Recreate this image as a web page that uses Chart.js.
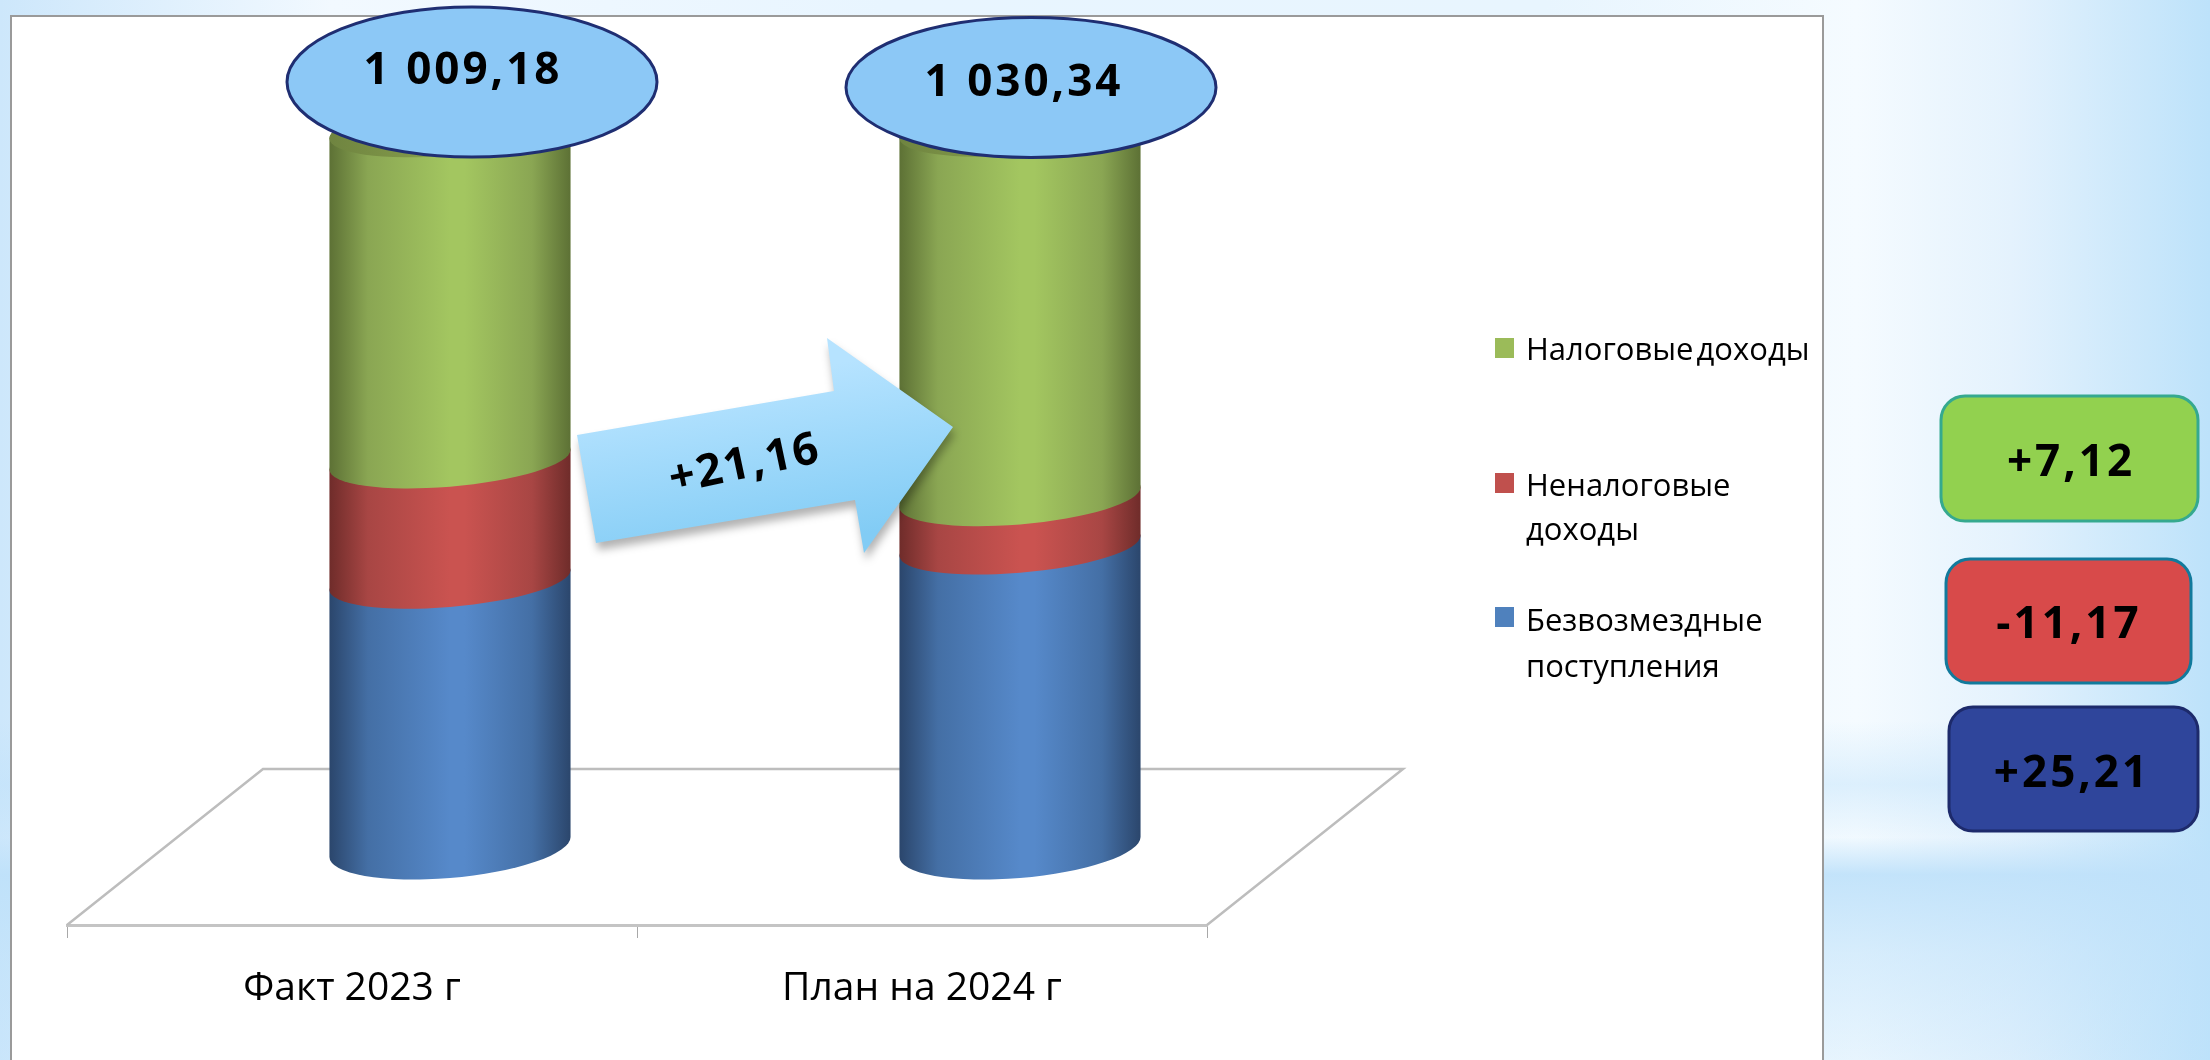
<!DOCTYPE html>
<html lang="ru">
<head>
<meta charset="utf-8">
<title>Доходы бюджета</title>
<script src="https://cdn.jsdelivr.net/npm/chart.js@4/dist/chart.umd.min.js"></script>
<style>
html, body { margin: 0; padding: 0; width: 2210px; height: 1060px; overflow: hidden; }
body {
    position: relative;
    background:
        linear-gradient(180deg,
            rgba(190,225,250,0) 68%, rgba(190,225,250,0.45) 74%, rgba(190,225,250,0.08) 79%,
            rgba(190,225,250,0.9) 82.5%, rgba(190,225,250,0.55) 90%, rgba(190,225,250,0.25) 100%),
        linear-gradient(90deg, #cde7fb 0%, #f2f9ff 15%, #e8f5ff 40%, #e8f5fe 70%, #f5fbff 84%, #e4f2fd 91%, #bde2fa 100%);
}
#panel {
    position: absolute; left: 10px; top: 15px; width: 1814px; height: 1045px;
    background: #fff; border: 2px solid #9a9a9a; border-bottom: 0; box-sizing: border-box;
}
#wrap { position: absolute; left: 0; top: 0; width: 2210px; height: 1060px; }
</style>
</head>
<body>
<div id="panel"></div>
<div id="wrap"><canvas id="revenueChart"></canvas></div>
<script>
// Chart data
const categories = ["Факт 2023 г", "План на 2024 г"];
const grants = [375, 423];
const nonTax = [169, 68];
const taxes = [465.18, 519];
const seriesNames = ["Безвозмездные поступления", "Неналоговые доходы", "Налоговые доходы"];
const totalLabels = ["1 009,18", "1 030,34"];
const changeLabels = ["+7,12", "-11,17", "+25,21"];
const arrowLabel = "+21,16";

const colors = { green: "#9BBB59", red: "#C0504D", blue: "#4F81BD" };
// edge, shoulder and middle shade of each band
const bandShades = {
    [colors.green]: ["#5d7135", "#8aa653", "#a3c660"],
    [colors.red]: ["#6f2c2a", "#a84644", "#ca5350"],
    [colors.blue]: ["#2b466c", "#446fa5", "#5689ca"],
};
const FONT = '"Open Sans", "Noto Sans", sans-serif';

// 3D look: cylinders stand in the middle of the floor
const depthX = 98;
const depthY = -78;
const skew = 10;

function cylinderPath(ctx, r, topY, botY, topRy, botRy) {
    ctx.beginPath();
    ctx.moveTo(-r, topY);
    ctx.lineTo(-r, botY);
    ctx.ellipse(0, botY, r, botRy, 0, Math.PI, 0, true);
    ctx.lineTo(r, topY);
    ctx.ellipse(0, topY, r, topRy, 0, 0, Math.PI, true);
    ctx.closePath();
}

function drawText(ctx, text, x, y, font, spacing, angle) {
    ctx.save();
    ctx.translate(x, y);
    if (angle) ctx.rotate(angle);
    ctx.font = font;
    ctx.letterSpacing = spacing || "0px";
    ctx.fillStyle = "#000";
    ctx.textAlign = "center";
    ctx.textBaseline = "middle";
    ctx.fillText(text, 0, 0);
    ctx.restore();
}

function drawBands(chart) {
    const { ctx } = chart;
    // bottom series first, so every upper band overlaps the one below
    chart.data.datasets.forEach((dataset, index) => {
        const [edge, shoulder, mid] = bandShades[dataset.backgroundColor];
        const isBottom = index === 0;
        const isTop = index === chart.data.datasets.length - 1;
        chart.getDatasetMeta(index).data.forEach((bar) => {
            const r = bar.width / 2;
            const grad = ctx.createLinearGradient(-r, 0, r, 0);
            grad.addColorStop(0, edge);
            grad.addColorStop(0.16, shoulder);
            grad.addColorStop(0.5, mid);
            grad.addColorStop(0.56, mid);
            grad.addColorStop(0.84, shoulder);
            grad.addColorStop(1, edge);
            ctx.save();
            ctx.translate(bar.x + depthX, depthY);
            ctx.transform(1, -skew / r, 0, 1, 0, 0);
            cylinderPath(ctx, r, bar.y, bar.base, 27, isBottom ? 31 : 27);
            ctx.fillStyle = grad;
            ctx.fill();
            if (isTop) {
                const cap = ctx.createLinearGradient(-r, 0, r * 0.3, 0);
                cap.addColorStop(0, "#6f8440");
                cap.addColorStop(0.5, "#7f9648");
                cap.addColorStop(1, "#a0c35d");
                ctx.beginPath();
                ctx.ellipse(0, bar.y, r, 27, 0, 0, Math.PI * 2);
                ctx.fillStyle = cap;
                ctx.fill();
            }
            ctx.restore();
        });
    });
}

const cylinders = {
    id: "cylinders",
    beforeDatasetsDraw(chart) {
        // floor of the 3D chart
        const { ctx, chartArea: a } = chart;
        const backY = a.bottom + depthY * 2;
        const backX = depthX * 2;
        ctx.save();
        ctx.strokeStyle = "#bdbdbd";
        ctx.lineWidth = 2.5;
        ctx.beginPath();
        ctx.moveTo(a.left, a.bottom);
        ctx.lineTo(a.left + backX, backY);
        ctx.lineTo(a.right + backX, backY);
        ctx.lineTo(a.right, a.bottom);
        ctx.stroke();
        ctx.restore();
    },
    beforeDatasetDraw() {
        // the bars are painted as cylinders in afterDatasetsDraw
        return false;
    },
    afterDatasetsDraw(chart) {
        const { ctx } = chart;
        drawBands(chart);

        // arrow between the columns
        const arrow = [[577, 435], [834, 391], [827, 338], [953, 427], [864, 553], [855, 500], [596, 543]];
        ctx.save();
        ctx.beginPath();
        arrow.forEach(([x, y], i) => (i ? ctx.lineTo(x, y) : ctx.moveTo(x, y)));
        ctx.closePath();
        const arrowFill = ctx.createLinearGradient(740, 380, 770, 550);
        arrowFill.addColorStop(0, "#b6e3ff");
        arrowFill.addColorStop(1, "#82ccf5");
        ctx.shadowColor = "rgba(0,0,0,0.3)";
        ctx.shadowBlur = 8;
        ctx.shadowOffsetX = 2;
        ctx.shadowOffsetY = 7;
        ctx.fillStyle = arrowFill;
        ctx.fill();
        ctx.restore();
        drawText(ctx, arrowLabel, 745, 465, "bold 45px " + FONT, "2px", -0.21);

        // totals in ovals
        const ovals = [
            { x: 472, y: 82, rx: 185, ry: 75, tx: 463, ty: 71 },
            { x: 1031, y: 87.5, rx: 185, ry: 70, tx: 1024, ty: 83 },
        ];
        ovals.forEach((o, i) => {
            ctx.save();
            ctx.beginPath();
            ctx.ellipse(o.x, o.y, o.rx, o.ry, 0, 0, Math.PI * 2);
            ctx.fillStyle = "#8cc8f6";
            ctx.fill();
            ctx.lineWidth = 3;
            ctx.strokeStyle = "#1f2e72";
            ctx.stroke();
            ctx.restore();
            drawText(ctx, totalLabels[i], o.tx, o.ty, "bold 44px " + FONT, "3px");
        });

        // legend, top entry first
        const legend = [
            { color: colors.green, y: 338, lines: [seriesNames[2]], ty: [351] },
            { color: colors.red, y: 473, lines: ["Неналоговые", "доходы"], ty: [487, 531] },
            { color: colors.blue, y: 607, lines: ["Безвозмездные", "поступления"], ty: [622, 668] },
        ];
        legend.forEach((e) => {
            ctx.fillStyle = e.color;
            ctx.fillRect(1495, e.y, 19, 20);
            ctx.save();
            ctx.font = "31px " + FONT;
            ctx.wordSpacing = "-5px";
            ctx.fillStyle = "#000";
            ctx.textBaseline = "middle";
            e.lines.forEach((t, i) => ctx.fillText(t, 1526, e.ty[i]));
            ctx.restore();
        });

        // change badges at the right
        const badges = [
            { x: 1941, y: 396, w: 257, h: 125, fill: "#92d14f", line: "#35a98f", tx: 2071, ty: 463 },
            { x: 1946, y: 559, w: 245, h: 124, fill: "#d84a4a", line: "#127a9c", tx: 2069, ty: 625 },
            { x: 1949, y: 707, w: 249, h: 124, fill: "#2f459b", line: "#1d2a6b", tx: 2072, ty: 774 },
        ];
        badges.forEach((b, i) => {
            ctx.save();
            ctx.beginPath();
            ctx.roundRect(b.x, b.y, b.w, b.h, 24);
            ctx.fillStyle = b.fill;
            ctx.fill();
            ctx.lineWidth = 3;
            ctx.strokeStyle = b.line;
            ctx.stroke();
            ctx.restore();
            drawText(ctx, changeLabels[i], b.tx, b.ty, "bold 44px " + FONT, "3px");
        });
    },
};

new Chart(document.getElementById("revenueChart"), {
    type: "bar",
    data: {
        labels: categories,
        datasets: [
            { label: seriesNames[0], data: grants, backgroundColor: colors.blue },
            { label: seriesNames[1], data: nonTax, backgroundColor: colors.red },
            { label: seriesNames[2], data: taxes, backgroundColor: colors.green },
        ],
    },
    options: {
        responsive: true,
        maintainAspectRatio: false,
        animation: false,
        devicePixelRatio: 1,
        categoryPercentage: 1,
        barPercentage: 0.423,
        layout: { padding: { left: 67, right: 1003, top: 35, bottom: 0 } },
        plugins: {
            legend: { display: false },
            tooltip: { enabled: false },
        },
        scales: {
            x: {
                stacked: true,
                afterFit: (scale) => { scale.height = 135; },
                grid: { drawOnChartArea: false, tickLength: 13, color: "#a8a8a8", tickColor: "#a8a8a8" },
                border: { color: "#c4c4c4", width: 3 },
                ticks: { color: "#000", font: { family: FONT, size: 39 }, padding: 27, maxRotation: 0 },
            },
            y: { stacked: true, display: false, min: 0, max: 1250 },
        },
    },
    plugins: [cylinders],
});
</script>
</body>
</html>
